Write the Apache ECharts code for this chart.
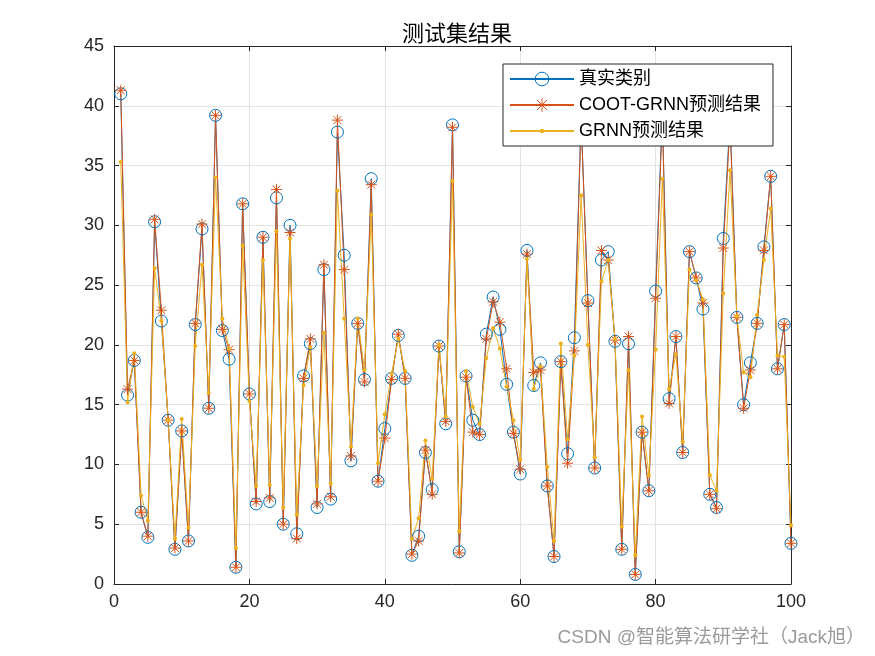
<!DOCTYPE html>
<html><head><meta charset="utf-8">
<script src="https://cdn.jsdelivr.net/npm/echarts@6/dist/echarts.min.js"></script>
<style>html,body{margin:0;padding:0;background:#fff}#c{width:875px;height:656px}</style>
</head><body><div id="c"></div>
<script>
const sampleIdx = [1,2,3,4,5,6,7,8,9,10,11,12,13,14,15,16,17,18,19,20,21,22,23,24,25,26,27,28,29,30,31,32,33,34,35,36,37,38,39,40,41,42,43,44,45,46,47,48,49,50,51,52,53,54,55,56,57,58,59,60,61,62,63,64,65,66,67,68,69,70,71,72,73,74,75,76,77,78,79,80,81,82,83,84,85,86,87,88,89,90,91,92,93,94,95,96,97,98,99,100];
const trueVals = [41.0,15.8,18.7,6.0,3.9,30.3,22.0,13.7,2.9,12.8,3.6,21.7,29.7,14.7,39.2,21.2,18.8,1.4,31.8,15.9,6.7,29.0,6.9,32.3,5.0,30.0,4.2,17.4,20.1,6.4,26.3,7.1,37.8,27.5,10.3,21.8,17.1,33.9,8.6,13.0,17.2,20.8,17.2,2.4,4.0,11.0,7.9,19.9,13.4,38.4,2.7,17.4,13.7,12.5,20.9,24.0,21.3,16.7,12.7,9.2,27.9,16.6,18.5,8.2,2.3,18.6,10.9,20.6,39.0,23.7,9.7,27.1,27.8,20.3,2.9,20.1,0.8,12.7,7.8,24.5,39.5,15.5,20.7,11.0,27.8,25.6,23.0,7.5,6.4,28.9,39.0,22.3,15.0,18.5,21.8,28.2,34.1,18.0,21.7,3.4];
const cootVals = [41.3,16.3,18.7,6.0,4.0,30.5,22.9,13.7,3.0,12.8,3.6,21.8,30.1,14.7,39.2,21.3,19.6,1.4,31.8,15.9,6.9,29.0,7.2,33.0,5.0,29.4,3.8,17.2,20.5,6.7,26.7,7.3,38.8,26.3,10.7,21.8,16.9,33.4,8.6,12.2,17.1,20.9,17.2,2.5,3.6,11.2,7.5,19.9,13.6,38.2,2.6,17.3,12.7,12.5,20.5,23.6,21.9,18.0,12.6,9.6,27.6,17.7,17.9,8.2,2.3,18.6,10.1,19.5,38.8,23.5,9.7,27.9,27.1,20.4,2.9,20.7,0.8,12.7,7.8,23.9,39.0,15.1,20.7,11.0,27.8,25.6,23.5,7.5,6.3,28.1,38.5,22.3,14.7,17.9,21.8,27.9,34.1,18.0,21.7,3.4];
const grnnVals = [35.3,15.2,19.3,7.4,5.3,26.4,22.0,13.7,3.8,13.8,4.7,19.9,26.7,16.0,34.0,22.2,19.7,3.0,28.3,15.3,8.2,27.1,8.3,29.5,6.4,28.9,5.8,16.6,19.8,8.2,21.0,8.4,32.9,22.2,11.5,22.2,17.9,30.9,10.1,14.2,17.6,20.5,17.8,3.8,5.5,12.0,8.8,20.0,14.0,33.7,4.4,17.8,14.8,13.4,18.9,21.4,19.7,16.5,13.7,10.4,27.2,16.3,18.2,9.8,3.6,20.1,12.1,19.1,32.5,20.0,10.6,25.3,27.1,20.5,4.8,17.9,2.4,14.0,9.1,19.6,33.9,16.3,19.2,11.9,26.3,25.4,23.8,9.1,7.8,24.3,34.6,22.4,17.7,17.3,22.5,27.1,31.4,19.1,19.0,4.9];
const seriesNames = ['真实类别','COOT-GRNN预测结果','GRNN预测结果'];
const titleText = '测试集结果';
const watermark = 'CSDN @智能算法研学社（Jack旭）';

const pair = v => sampleIdx.map((x,i)=>[x,v[i]]);
const FONT = '"Liberation Sans", Arial, "Noto Sans CJK SC", sans-serif';
const star = 'path://M0,-5L0,5M-5,0L5,0M-3.6,-3.6L3.6,3.6M-3.6,3.6L3.6,-3.6';
// small dot centred in a 10x10 box (corner moves only widen the box)
const dot = 'path://M-5,-5M5,5M1.6,0A1.6,1.6,0,1,1,-1.6,0A1.6,1.6,0,1,1,1.6,0Z';
const colors = ['#0072BD','#D95319','#EDB120'];

const chart = echarts.init(document.getElementById('c'), null, {renderer:'canvas'});
const axisCommon = {
  axisLine:{show:true,onZero:false,lineStyle:{color:'#262626',width:1}},
  axisTick:{show:true,inside:true,length:5,lineStyle:{color:'#262626'}},
};
chart.setOption({
  animation:false,
  backgroundColor:'#fff',
  title:{text:titleText,left:452,textAlign:'center',top:19,textStyle:{fontFamily:FONT,fontSize:22,fontWeight:'normal',color:'#000'}},
  grid:{left:114,right:84,top:46,bottom:72,containLabel:false},
  legend:{
    orient:'vertical',left:503,top:64,
    backgroundColor:'#fff',borderColor:'#262626',borderWidth:1,
    padding:[6,12,6,6],itemGap:8,itemWidth:64,itemHeight:17,
    textStyle:{fontFamily:FONT,fontSize:18,color:'#000'},
    data:seriesNames.map((n,i)=>({name:n,itemStyle:{borderWidth:i===2?0:1}}))
  },
  xAxis:[
    Object.assign({type:'value',min:0,max:100,interval:20,position:'bottom',
      axisLabel:{fontFamily:FONT,fontSize:18,color:'#262626',margin:9},
      splitLine:{show:true,lineStyle:{color:'#e3e3e3',width:1}}},axisCommon),
    Object.assign({type:'value',min:0,max:100,interval:20,position:'top',
      axisLabel:{show:false},splitLine:{show:false}},axisCommon)
  ],
  yAxis:[
    Object.assign({type:'value',min:0,max:45,interval:5,position:'left',
      axisLabel:{fontFamily:FONT,fontSize:18,color:'#262626',margin:10},
      splitLine:{show:true,lineStyle:{color:'#e3e3e3',width:1}}},axisCommon),
    Object.assign({type:'value',min:0,max:45,interval:5,position:'right',
      axisLabel:{show:false},splitLine:{show:false}},axisCommon)
  ],
  series:[
    {name:seriesNames[0],type:'line',data:pair(trueVals),symbol:'circle',symbolSize:12,
     lineStyle:{color:colors[0],width:1},
     itemStyle:{color:'rgba(0,0,0,0)',borderColor:colors[0],borderWidth:1},
     emphasis:{disabled:true}},
    {name:seriesNames[1],type:'line',data:pair(cootVals),symbol:star,symbolSize:11,symbolKeepAspect:true,
     lineStyle:{color:colors[1],width:1},
     itemStyle:{color:'rgba(0,0,0,0)',borderColor:colors[1],borderWidth:1},
     emphasis:{disabled:true}},
    {name:seriesNames[2],type:'line',data:pair(grnnVals),symbol:dot,symbolSize:13,symbolKeepAspect:true,
     lineStyle:{color:colors[2],width:1},
     itemStyle:{color:colors[2],borderWidth:0},
     emphasis:{disabled:true}}
  ],
  graphic:[{type:'text',right:10,bottom:9,style:{text:watermark,fontFamily:FONT,fontSize:19,fill:'#9a9a9a'}}]
});
</script></body></html>
